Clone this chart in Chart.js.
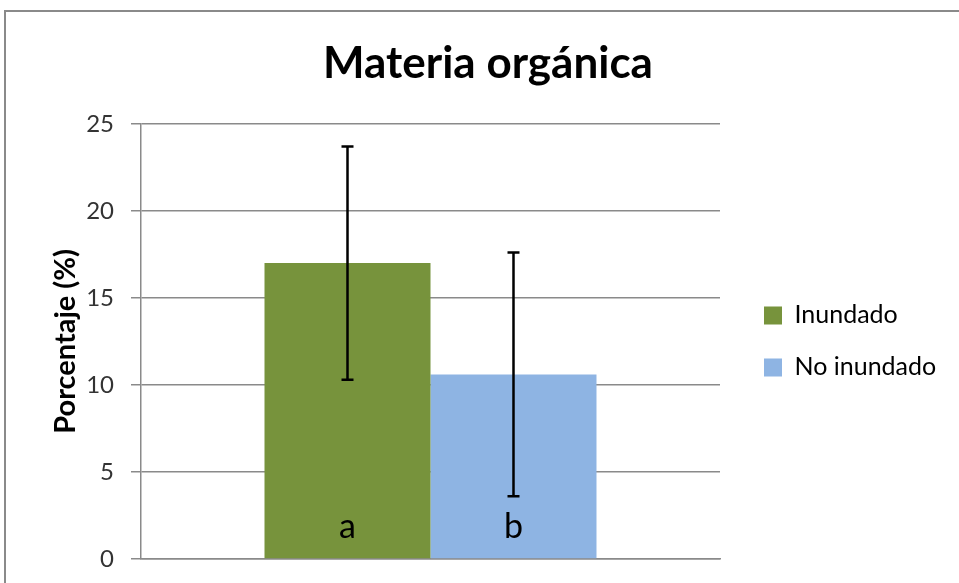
<!DOCTYPE html>
<html>
<head>
<meta charset="utf-8">
<script src="https://cdn.jsdelivr.net/npm/chart.js@4.4.1/dist/chart.umd.min.js"></script>
<style>
  html, body { margin: 0; padding: 0; background: #fff; }
  #wrap { position: relative; width: 959px; height: 583px; overflow: hidden; }
  #frame { position: absolute; left: 4px; top: 10px; width: 980px; height: 600px; border: 2px solid #8a8a8a; box-sizing: border-box; }
  canvas { position: absolute; left: 0; top: 0; }
</style>
</head>
<body>
<div id="wrap">
  <div id="frame"></div>
  <canvas id="chart" width="959" height="583"></canvas>
</div>
<script>
// data
const categories = [""];
const seriesNames = ["Inundado", "No inundado"];
const seriesValues = [17.0, 10.6];
const seriesErrors = [6.7, 7.0];
const groupLetters = ["a", "b"];
const seriesColors = ["#77933C", "#8EB4E3"];
const yTicks = [0, 5, 10, 15, 20, 25];

const FONT = "Lato";
const legendSize = 25;

// work out paddings so the legend and title land where they should
const mctx = document.createElement("canvas").getContext("2d");
mctx.font = legendSize + "px " + FONT;
const tw = Math.max(...seriesNames.map(function (s) { return mctx.measureText(s).width; }));
const padR = Math.max(0, 959 - 737 - (27 + 18 + legendSize / 2 + tw + 10));
const padL = Math.max(0, 2 * 488 - 959 + padR);

// error bars + significance letters
const extras = {
  id: "extras",
  afterDatasetsDraw: function (chart) {
    const ctx = chart.ctx;
    const y = chart.scales.y;
    ctx.save();
    chart.data.datasets.forEach(function (ds, i) {
      const bar = chart.getDatasetMeta(i).data[0];
      const v = ds.data[0];
      const top = y.getPixelForValue(v + seriesErrors[i]);
      const bot = y.getPixelForValue(v - seriesErrors[i]);
      ctx.strokeStyle = "#000";
      ctx.lineWidth = 2.5;
      ctx.beginPath();
      ctx.moveTo(bar.x, top);
      ctx.lineTo(bar.x, bot);
      ctx.moveTo(bar.x - 6, top);
      ctx.lineTo(bar.x + 6, top);
      ctx.moveTo(bar.x - 6, bot);
      ctx.lineTo(bar.x + 6, bot);
      ctx.stroke();

      ctx.fillStyle = "#000";
      ctx.font = "34px " + FONT;
      ctx.textAlign = "center";
      ctx.textBaseline = "alphabetic";
      ctx.fillText(groupLetters[i], bar.x, y.getPixelForValue(0) - 21);
    });
    ctx.restore();
  },
};

new Chart(document.getElementById("chart"), {
  type: "bar",
  data: {
    labels: categories,
    datasets: seriesNames.map(function (name, i) {
      return {
        label: name,
        data: [seriesValues[i]],
        backgroundColor: seriesColors[i],
        borderWidth: 0,
        barPercentage: 1,
        categoryPercentage: 0.5734,
      };
    }),
  },
  options: {
    responsive: false,
    animation: false,
    events: [],
    layout: { padding: { left: padL, right: padR, top: 0, bottom: 24 } },
    scales: {
      x: {
        grid: { display: false, drawTicks: false },
        ticks: { display: false },
        border: { display: true, color: "#8a8a8a", width: 1.5 },
        afterFit: function (s) { s.height = 0; },
      },
      y: {
        min: 0,
        max: 25,
        afterBuildTicks: function (s) { s.ticks = yTicks.map(function (v) { return { value: v }; }); },
        ticks: {
          padding: 17,
          color: "#333",
          font: { family: FONT, size: 24 },
        },
        grid: { color: "#8a8a8a", lineWidth: 1.5, tickLength: 10 },
        border: { display: true, color: "#8a8a8a", width: 1.5 },
        title: {
          display: true,
          text: "Porcentaje (%)",
          color: "#000",
          font: { family: FONT, size: 29, weight: "bold" },
          padding: { top: Math.max(0, 65 - padL - 17), bottom: 0 },
        },
        afterFit: function (s) {
          s.width = 141 - padL;
          s.paddingTop = 0;
          s.paddingBottom = 0;
        },
      },
      pad: {
        type: "linear",
        position: "right",
        display: true,
        grid: { display: false, drawTicks: false },
        ticks: { display: false },
        border: { display: false },
        afterFit: function (s) {
          s.width = 17;
          s.paddingTop = 0;
          s.paddingBottom = 0;
        },
      },
    },
    plugins: {
      title: {
        display: true,
        text: "Materia orgánica",
        color: "#000",
        font: { family: FONT, size: 44, weight: "bold" },
        padding: { top: 37, bottom: 34 },
      },
      legend: {
        position: "right",
        fullSize: false,
        align: "center",
        maxWidth: 400,
        labels: {
          boxWidth: 18,
          boxHeight: 18,
          padding: 27,
          color: "#000",
          font: { family: FONT, size: legendSize },
        },
      },
      tooltip: { enabled: false },
    },
  },
  plugins: [extras],
});
</script>
</body>
</html>
